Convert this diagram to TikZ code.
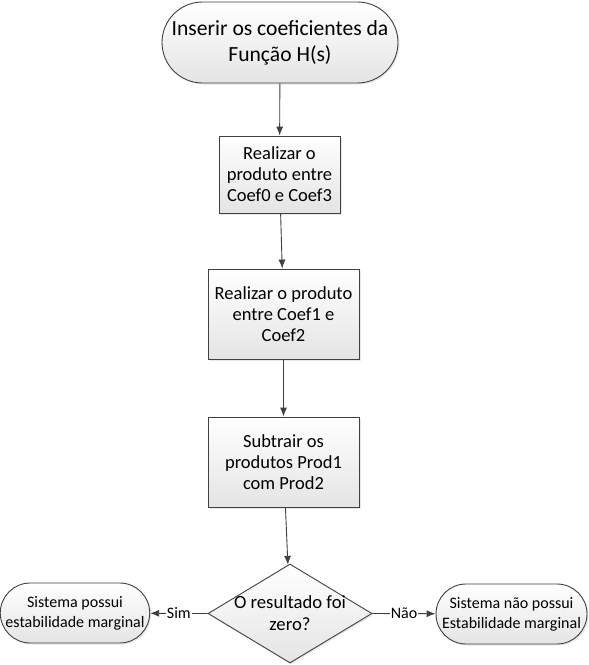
\documentclass[tikz,border=0pt]{standalone}
\usepackage{fontspec}
\setmainfont{Carlito}
\usetikzlibrary{shapes.misc,shapes.geometric,shadows,arrows.meta}

\definecolor{borde}{HTML}{404040}
\definecolor{relleno}{HTML}{E4E4E4}

\begin{document}
\begin{tikzpicture}[x=1pt,y=-1pt,
    base/.style={draw=borde,line width=0.9pt,top color=white,bottom color=relleno,
      drop shadow={opacity=0.18,shadow xshift=1.5pt,shadow yshift=-1.5pt},
      align=center,inner sep=0pt},
    terminal/.style={base,rounded rectangle},
    proceso/.style={base,rectangle},
    decision/.style={base,diamond},
    linea/.style={draw=borde,line width=0.9pt,-{Latex[length=9pt,width=7pt]}},
    rotulo/.style={fill=white,inner sep=1pt,font=\fontsize{16}{19}\selectfont}]
  \useasboundingbox (0,0) rectangle (589,665);

  % Nodos
  \node[terminal,minimum width=236pt,minimum height=81pt,font=\fontsize{21.6}{26}\selectfont]
    (inicio) at (280,42.5) {Inserir os coeficientes da\\Função H(s)};
  \node[proceso,minimum width=121pt,minimum height=77pt,font=\fontsize{18.5}{21}\selectfont]
    (prod1) at (279.5,174.5) {Realizar o\\produto entre\\Coef0 e Coef3};
  \node[proceso,minimum width=151pt,minimum height=90pt,font=\fontsize{18.5}{21}\selectfont]
    (prod2) at (283.5,314) {Realizar o produto\\entre Coef1 e\\Coef2};
  \node[proceso,minimum width=151pt,minimum height=90pt,font=\fontsize{18.5}{21}\selectfont]
    (resta) at (283.5,462) {Subtrair os\\produtos Prod1\\com Prod2};
  \node[decision,minimum width=164pt,minimum height=99pt,
    label={[align=center,font=\fontsize{18.7}{22}\selectfont]center:O resultado foi\\zero?}]
    (cero) at (290,613.5) {};
  \node[terminal,minimum width=148pt,minimum height=60pt,font=\fontsize{16}{20}\selectfont]
    (si) at (75,613) {Sistema possui\\estabilidade marginal};
  \node[terminal,minimum width=151pt,minimum height=60pt,font=\fontsize{16}{20}\selectfont]
    (no) at (511.5,614) {Sistema não possui\\Estabilidade marginal};

  % Conectores
  \draw[linea] (inicio) -- (prod1);
  \draw[linea] (prod1) -- (prod2);
  \draw[linea] (prod2) -- (resta);
  \draw[linea] (resta) -- (cero);
  \draw[linea] (cero.west) -- node[rotulo]{Sim} (si);
  \draw[linea] (cero.east) -- node[rotulo]{Não} (no);
\end{tikzpicture}
\end{document}
